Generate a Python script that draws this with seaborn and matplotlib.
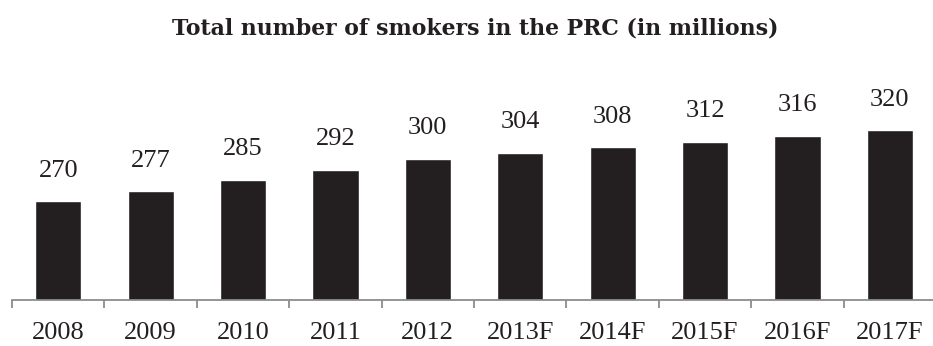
import matplotlib
matplotlib.use("Agg")
import matplotlib.pyplot as plt
import seaborn as sns
import pandas as pd

years = ["2008", "2009", "2010", "2011", "2012", "2013F", "2014F", "2015F", "2016F", "2017F"]
smokers = [270, 277, 285, 292, 300, 304, 308, 312, 316, 320]

df = pd.DataFrame({"year": years, "smokers": smokers})

sns.set_theme(style="white")
plt.rcParams["font.family"] = ["Liberation Serif", "DejaVu Serif"]

W, H = 933, 346
fig = plt.figure(figsize=(W / 100, H / 100), dpi=100)
ax = fig.add_axes([12 / W, 46 / H, 924 / W, 198 / H])

bar_color = "#231f20"
axis_color = "#8c8c8c"

sns.barplot(data=df, x="year", y="smokers", color=bar_color, width=0.5,
            saturation=1, ax=ax)

ax.set_ylim(200, 340)
ax.set_xlim(-0.5, len(years) - 0.5)

# value labels above each bar
for i, v in enumerate(smokers):
    ax.annotate(f"{v}", xy=(i, v), xytext=(0, 14), textcoords="offset points",
                ha="center", va="bottom", fontsize=19, color="#231f20")

for s in ["left", "right", "top"]:
    ax.spines[s].set_visible(False)
ax.spines["bottom"].set_color(axis_color)
ax.spines["bottom"].set_linewidth(1.3)

ax.set_yticks([])
ax.set_xlabel("")
ax.set_ylabel("")

# tick marks between categories, labels centered under bars
ax.set_xticks([i - 0.5 for i in range(len(years) + 1)], minor=True)
ax.tick_params(axis="x", which="minor", length=6, width=1.3, color=axis_color,
               direction="out", bottom=True)
ax.tick_params(axis="x", which="major", length=0, pad=15.5, labelsize=19,
               labelcolor="#231f20")

fig.text(475 / W, 1 - 29 / H, "Total number of smokers in the PRC (in millions)",
         ha="center", va="center", fontsize=15.8, fontweight="bold",
         family="DejaVu Serif", color="#231f20")

fig.savefig("out.png", dpi=100, facecolor="white")
